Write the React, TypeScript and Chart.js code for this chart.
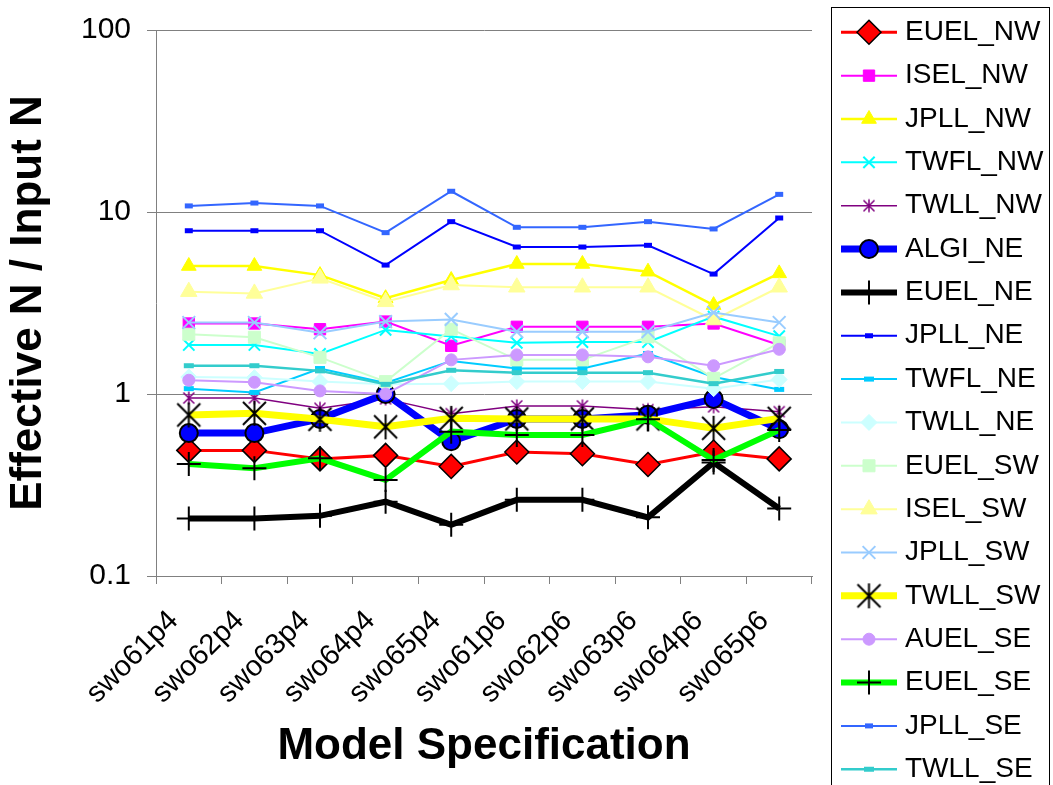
import React, { useEffect, useRef } from 'react';
import { Chart, registerables } from 'chart.js';

Chart.register(...registerables);

const FONT = '"Liberation Sans", Arial, sans-serif';

// ---------------- data ----------------
const categories = ['swo61p4', 'swo62p4', 'swo63p4', 'swo64p4', 'swo65p4', 'swo61p6', 'swo62p6', 'swo63p6', 'swo64p6', 'swo65p6'];

const yTickValues = [0.1, 1, 10, 100];
const yTickLabels = ['0.1', '1', '10', '100'];

const EUEL_NW = [0.49, 0.49, 0.44, 0.46, 0.40, 0.48, 0.47, 0.41, 0.48, 0.44];
const ISEL_NW = [2.44, 2.44, 2.27, 2.5, 1.84, 2.34, 2.34, 2.34, 2.44, 1.86];
const JPLL_NW = [5.05, 5.05, 4.5, 3.36, 4.23, 5.18, 5.18, 4.7, 3.08, 4.6];
const TWFL_NW = [1.86, 1.86, 1.66, 2.25, 2.07, 1.91, 1.93, 1.93, 2.66, 2.08];
const TWLL_NW = [0.95, 0.95, 0.835, 0.94, 0.78, 0.86, 0.86, 0.82, 0.85, 0.80];
const ALGI_NE = [0.61, 0.61, 0.73, 1.0, 0.55, 0.73, 0.73, 0.77, 0.94, 0.64];
const EUEL_NE = [0.207, 0.207, 0.214, 0.256, 0.191, 0.262, 0.262, 0.21, 0.42, 0.235];
const JPLL_NE = [7.89, 7.89, 7.89, 5.11, 8.85, 6.42, 6.42, 6.56, 4.56, 9.27];
const TWFL_NE = [1.07, 1.02, 1.38, 1.15, 1.52, 1.38, 1.38, 1.67, 1.24, 1.06];
const TWLL_NE = [1.24, 1.23, 1.17, 1.13, 1.14, 1.17, 1.17, 1.17, 1.07, 1.2];
const EUEL_SW = [2.13, 2.05, 1.59, 1.17, 2.27, 1.54, 1.54, 2.06, 1.22, 1.91];
const ISEL_SW = [3.65, 3.57, 4.32, 3.21, 3.97, 3.86, 3.86, 3.86, 2.55, 3.86];
const JPLL_SW = [2.47, 2.47, 2.17, 2.5, 2.57, 2.2, 2.2, 2.2, 2.8, 2.47];
const TWLL_SW = [0.767, 0.783, 0.726, 0.66, 0.735, 0.73, 0.73, 0.73, 0.648, 0.735];
const AUEL_SE = [1.19, 1.16, 1.04, 1.0, 1.54, 1.64, 1.64, 1.6, 1.43, 1.76];
const EUEL_SE = [0.412, 0.391, 0.443, 0.337, 0.621, 0.595, 0.595, 0.726, 0.434, 0.634];
const JPLL_SE = [10.8, 11.2, 10.8, 7.7, 13.0, 8.24, 8.24, 8.85, 8.07, 12.5];
const TWLL_SE = [1.43, 1.43, 1.34, 1.13, 1.35, 1.31, 1.31, 1.31, 1.14, 1.33];

const seriesNames = [
  'EUEL_NW', 'ISEL_NW', 'JPLL_NW', 'TWFL_NW', 'TWLL_NW', 'ALGI_NE', 'EUEL_NE', 'JPLL_NE', 'TWFL_NE',
  'TWLL_NE', 'EUEL_SW', 'ISEL_SW', 'JPLL_SW', 'TWLL_SW', 'AUEL_SE', 'EUEL_SE', 'JPLL_SE', 'TWLL_SE',
];
const seriesValues = [
  EUEL_NW, ISEL_NW, JPLL_NW, TWFL_NW, TWLL_NW, ALGI_NE, EUEL_NE, JPLL_NE, TWFL_NE,
  TWLL_NE, EUEL_SW, ISEL_SW, JPLL_SW, TWLL_SW, AUEL_SE, EUEL_SE, JPLL_SE, TWLL_SE,
];

// ---------------- styles ----------------
type Style = { color: string; lw: number; marker: string; r: number; fill: string; stroke: string; bw: number };
const seriesStyles: Style[] = [
  { color: '#ff0000', lw: 3, marker: 'rectRot', r: 12, fill: '#ff0000', stroke: '#000000', bw: 1.5 },
  { color: '#ff00ff', lw: 2, marker: 'rect', r: 8, fill: '#ff00ff', stroke: '#ff00ff', bw: 1 },
  { color: '#ffff00', lw: 2.5, marker: 'triangle', r: 8.5, fill: '#ffff00', stroke: '#ffff00', bw: 1 },
  { color: '#00ffff', lw: 2, marker: 'crossRot', r: 8, fill: '#00ffff', stroke: '#00ffff', bw: 2 },
  { color: '#800080', lw: 1.5, marker: 'asterisk', r: 5.5, fill: '#800080', stroke: '#800080', bw: 1.5 },
  { color: '#0000ff', lw: 7, marker: 'circle', r: 9, fill: '#0000ff', stroke: '#000000', bw: 2 },
  { color: '#000000', lw: 6, marker: 'cross', r: 12, fill: '#000000', stroke: '#000000', bw: 2 },
  { color: '#0000ff', lw: 2, marker: 'line', r: 4, fill: '#0000ff', stroke: '#0000ff', bw: 5 },
  { color: '#00ccff', lw: 2, marker: 'line', r: 5, fill: '#00ccff', stroke: '#00ccff', bw: 5 },
  { color: '#ccffff', lw: 2, marker: 'rectRot', r: 8, fill: '#ccffff', stroke: '#ccffff', bw: 1 },
  { color: '#ccffcc', lw: 2, marker: 'rect', r: 8.5, fill: '#ccffcc', stroke: '#ccffcc', bw: 1 },
  { color: '#ffff99', lw: 2, marker: 'triangle', r: 9.5, fill: '#ffff99', stroke: '#ffff99', bw: 1 },
  { color: '#99ccff', lw: 2, marker: 'crossRot', r: 9, fill: '#99ccff', stroke: '#99ccff', bw: 2 },
  { color: '#ffff00', lw: 7, marker: 'asterisk', r: 11.5, fill: '#000000', stroke: '#000000', bw: 2 },
  { color: '#cc99ff', lw: 2, marker: 'circle', r: 6, fill: '#cc99ff', stroke: '#cc99ff', bw: 1 },
  { color: '#00ff00', lw: 6, marker: 'cross', r: 12, fill: '#000000', stroke: '#000000', bw: 2 },
  { color: '#3366ff', lw: 2, marker: 'line', r: 4, fill: '#3366ff', stroke: '#3366ff', bw: 5 },
  { color: '#33cccc', lw: 2.5, marker: 'line', r: 5, fill: '#33cccc', stroke: '#33cccc', bw: 5 },
];

function makeAsterisk(color: string, r: number, lw: number): HTMLCanvasElement {
  const s = Math.ceil(2 * r + 2 * lw + 2);
  const c = document.createElement('canvas');
  c.width = s;
  c.height = s;
  const g = c.getContext('2d')!;
  const m = s / 2;
  g.strokeStyle = color;
  g.lineWidth = lw;
  g.beginPath();
  g.moveTo(m - r, m - r);
  g.lineTo(m + r, m + r);
  g.moveTo(m + r, m - r);
  g.lineTo(m - r, m + r);
  g.moveTo(m, m - r - 1);
  g.lineTo(m, m + r + 1);
  g.stroke();
  return c;
}

function drawMarker(ctx: CanvasRenderingContext2D, st: Style, x: number, y: number, img: any) {
  const r = st.r;
  if (st.marker === 'asterisk') {
    ctx.drawImage(img, x - img.width / 2, y - img.height / 2);
    return;
  }
  ctx.save();
  ctx.fillStyle = st.fill;
  ctx.strokeStyle = st.stroke;
  ctx.lineWidth = st.bw;
  ctx.beginPath();
  switch (st.marker) {
    case 'circle':
      ctx.arc(x, y, r, 0, Math.PI * 2);
      break;
    case 'rect': {
      const s = r * Math.SQRT1_2;
      ctx.rect(x - s, y - s, 2 * s, 2 * s);
      break;
    }
    case 'rectRot':
      ctx.moveTo(x - r, y);
      ctx.lineTo(x, y - r);
      ctx.lineTo(x + r, y);
      ctx.lineTo(x, y + r);
      ctx.closePath();
      break;
    case 'triangle': {
      let a = 0;
      ctx.moveTo(x + Math.sin(a) * r, y - Math.cos(a) * r);
      a += (2 * Math.PI) / 3;
      ctx.lineTo(x + Math.sin(a) * r, y - Math.cos(a) * r);
      a += (2 * Math.PI) / 3;
      ctx.lineTo(x + Math.sin(a) * r, y - Math.cos(a) * r);
      ctx.closePath();
      break;
    }
    case 'cross':
      ctx.moveTo(x - r, y);
      ctx.lineTo(x + r, y);
      ctx.moveTo(x, y - r);
      ctx.lineTo(x, y + r);
      break;
    case 'crossRot': {
      const d = r * Math.SQRT1_2;
      ctx.moveTo(x - d, y - d);
      ctx.lineTo(x + d, y + d);
      ctx.moveTo(x + d, y - d);
      ctx.lineTo(x - d, y + d);
      break;
    }
    case 'line':
      ctx.moveTo(x - r, y);
      ctx.lineTo(x + r, y);
      break;
  }
  if (['circle', 'rect', 'rectRot', 'triangle'].includes(st.marker)) ctx.fill();
  if (st.bw > 0) ctx.stroke();
  ctx.restore();
}

export default function App() {
  const ref = useRef<HTMLCanvasElement>(null);

  useEffect(() => {
    if (!ref.current) return;
    const images = seriesStyles.map((st) => (st.marker === 'asterisk' ? makeAsterisk(st.stroke, st.r, st.bw) : null));

    const datasets = seriesNames.map((name, i) => {
      const st = seriesStyles[i];
      return {
        label: name,
        data: seriesValues[i],
        borderColor: st.color,
        backgroundColor: st.color,
        borderWidth: st.lw,
        pointStyle: images[i] ? images[i] : st.marker,
        pointRadius: st.r,
        pointBackgroundColor: st.fill,
        pointBorderColor: st.stroke,
        pointBorderWidth: st.bw,
        tension: 0,
        fill: false,
        clip: false,
        order: seriesNames.length - i,
      };
    });

    const legendPlugin = {
      id: 'boxLegend',
      afterDraw(chart: any) {
        const ctx = chart.ctx as CanvasRenderingContext2D;
        ctx.save();
        ctx.strokeStyle = '#000000';
        ctx.lineWidth = 1;
        ctx.strokeRect(831.5, 7.5, 218, 800);
        ctx.font = `28px ${FONT}`;
        ctx.textBaseline = 'middle';
        ctx.textAlign = 'left';
        seriesNames.forEach((name, i) => {
          const st = seriesStyles[i];
          const y = 32.3 + i * 43.35;
          ctx.strokeStyle = st.color;
          ctx.lineWidth = st.lw;
          ctx.lineCap = 'butt';
          ctx.beginPath();
          ctx.moveTo(841, y);
          ctx.lineTo(897, y);
          ctx.stroke();
          drawMarker(ctx, st, 869, y, images[i]);
          ctx.fillStyle = '#000000';
          ctx.fillText(name, 905, y);
        });
        ctx.restore();
      },
    };

    const chart = new Chart(ref.current, {
      type: 'line',
      data: { labels: categories, datasets: datasets as any },
      plugins: [legendPlugin],
      options: {
        responsive: false,
        animation: false,
        devicePixelRatio: 1,
        events: [],
        layout: { padding: { top: 30, right: 241, left: 0, bottom: 0 } },
        plugins: {
          legend: { display: false },
          tooltip: { enabled: false },
          title: { display: false },
        },
        scales: {
          x: {
            type: 'category',
            offset: true,
            grid: {
              display: true,
              drawOnChartArea: false,
              drawTicks: true,
              tickLength: 8,
              color: '#808080',
              offset: true,
            },
            border: { display: true, color: '#808080', width: 1 },
            ticks: {
              minRotation: 45,
              maxRotation: 45,
              autoSkip: false,
              color: '#000000',
              font: { family: FONT, size: 29 },
              padding: 20,
              labelOffset: -15,
            },
            title: {
              display: true,
              text: 'Model Specification',
              color: '#000000',
              font: { family: FONT, size: 44, weight: 'bold', lineHeight: 1.2 },
              padding: { top: 0, bottom: 12 },
            },
            afterFit: (s: any) => {
              s.height = 209;
              s.paddingTop = 0;
              s.paddingBottom = 0;
            },
          },
          y: {
            type: 'logarithmic',
            min: 0.1,
            max: 100,
            afterBuildTicks: (s: any) => {
              s.ticks = yTickValues.map((v) => ({ value: v }));
            },
            ticks: {
              callback: (_v: any, idx: number) => yTickLabels[idx],
              color: '#000000',
              font: { family: FONT, size: 30 },
              padding: 16,
            },
            grid: { color: '#808080', lineWidth: 1, tickLength: 9, drawTicks: true },
            border: { display: true, color: '#808080', width: 1 },
            title: {
              display: true,
              text: 'Effective N / Input N',
              color: '#000000',
              font: { family: FONT, size: 44, weight: 'bold', lineHeight: 1.2 },
              padding: { top: 2, bottom: 0 },
            },
            afterFit: (s: any) => {
              s.width = 156;
              s.paddingTop = 0;
              s.paddingBottom = 0;
            },
          },
        },
      } as any,
    });

    return () => chart.destroy();
  }, []);

  return (
    <div style={{ position: 'absolute', left: 0, top: 0, width: 1053, height: 785, background: '#ffffff' }}>
      <canvas ref={ref} width={1053} height={785} style={{ display: 'block', width: 1053, height: 785 }} />
    </div>
  );
}
